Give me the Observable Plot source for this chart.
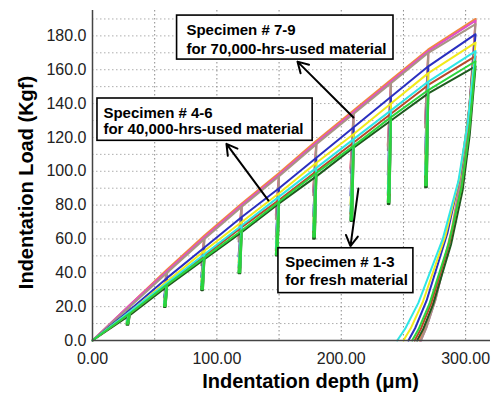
<!DOCTYPE html>
<html>
<head>
<meta charset="utf-8">
<script src="https://cdn.jsdelivr.net/npm/d3@7"></script>
<script src="https://cdn.jsdelivr.net/npm/@observablehq/plot@0.6"></script>
<style>
  html, body { margin: 0; padding: 0; background: #fff; }
</style>
</head>
<body>
<div id="chart"></div>
<script>
// ---- data ----
const cycleDepths = [30, 60, 90, 120, 150, 180, 210, 240, 270, 308]; // µm, last = maximum depth
const specimenNames = ["7", "8", "9", "4", "5", "1", "3", "6", "2"];
const specimenColors = ["#f08a3c", "#e04fc8", "#a89484", "#2a2fc0", "#f2ea1a", "#1e5a1e", "#b8482a", "#2fe6e6", "#2bd43c"];
const peakLoads = [
  [21, 42, 62, 81, 99, 118, 136, 154, 172, 190],
  [21, 41, 61, 80, 98, 117, 135, 153, 171, 189],
  [20, 40, 60, 79, 97, 116, 134, 152, 170, 187],
  [18, 37, 55, 73, 90, 108, 126, 144, 162, 181],
  [17, 35, 53, 70, 87, 105, 122, 140, 158, 176],
  [15, 32, 48, 64, 81, 97, 114, 130, 146, 162],
  [16, 33, 50, 67, 83, 100, 117, 134, 151, 168],
  [17, 34, 51, 68, 85, 102, 119, 136, 153, 171],
  [16, 33, 49, 65, 82, 99, 115, 132, 148, 165]
];
const unloadRatio = [0.75, 0.75, 0.74, 0.68, 0.66, 0.62, 0.64, 0.64, 0.62];
const residualDepth = [263, 264, 264, 254, 250, 261, 259, 245, 257];
// final unloading profile: fraction of peak load vs fraction of (hmax - hf)
const unloadLoadFrac = [1, 0.75, 0.55, 0.35, 0.13, 0.04, 0];
const unloadDepthFrac = [1, 0.9, 0.78, 0.58, 0.27, 0.1, 0];

const xTicks = [0, 100, 200, 300];
const yTicks = [0, 20, 40, 60, 80, 100, 120, 140, 160, 180];
const xGrid = [50, 100, 150, 200, 250, 300];
const yGrid = [10, 20, 30, 40, 50, 60, 70, 80, 90, 100, 110, 120, 130, 140, 150, 160, 170, 180, 190];

const boxes = [
  {x1: 68, x2: 242, y1: 166, y2: 192},
  {x1: 4, x2: 177, y1: 118, y2: 143},
  {x1: 149.5, x2: 258, y1: 28, y2: 54.5}
];
const boxLabels = [
  {x: 75.5, y: 183.2, text: "Specimen # 7-9"},
  {x: 75.5, y: 172.4, text: "for 70,000-hrs-used material"},
  {x: 8.8, y: 134.6, text: "Specimen # 4-6"},
  {x: 8.8, y: 125.0, text: "for 40,000-hrs-used material"},
  {x: 155, y: 46, text: "Specimen # 1-3"},
  {x: 155, y: 35.4, text: "for fresh material"}
];
const arrows = [
  {x1: 209.8, y1: 131.8, x2: 164.8, y2: 164.8},
  {x1: 141.5, y1: 82.7, x2: 107.7, y2: 116.2},
  {x1: 213.8, y1: 89.8, x2: 207.4, y2: 55.8}
];

// ---- build curves from the read values ----
function curve(s) {
  const pts = [{x: 0, y: 0}];
  const n = cycleDepths.length;
  for (let i = 0; i < n - 1; i++) {
    const d = cycleDepths[i], p = peakLoads[s][i];
    pts.push({x: d, y: p});
    pts.push({x: d - 2.6, y: p * unloadRatio[s]});
    pts.push({x: d - 1.2, y: p * unloadRatio[s]});
    pts.push({x: d, y: p});
  }
  const hmax = cycleDepths[n - 1], pmax = peakLoads[s][n - 1];
  for (let k = 0; k < unloadLoadFrac.length; k++) {
    pts.push({
      x: residualDepth[s] + (hmax - residualDepth[s]) * unloadDepthFrac[k],
      y: pmax * unloadLoadFrac[k]
    });
  }
  return pts;
}

const lineMarks = specimenNames.map((name, s) =>
  Plot.line(curve(s), {x: "x", y: "y", stroke: specimenColors[s], strokeWidth: 2, strokeLinejoin: "round"})
);

const fontFamily = "'Liberation Sans', Arial, sans-serif";

const chart = Plot.plot({
  width: 504,
  height: 397,
  marginLeft: 92,
  marginRight: 14,
  marginTop: 10,
  marginBottom: 57,
  style: {fontFamily, background: "white", color: "#222"},
  x: {domain: [0, 320]},
  y: {domain: [0, 195]},
  marks: [
    Plot.ruleX(xGrid, {stroke: "#8a8a8a", strokeDasharray: "1.5,2.5", strokeWidth: 1}),
    Plot.ruleY(yGrid, {stroke: "#8a8a8a", strokeDasharray: "1.5,2.5", strokeWidth: 1, strokeOpacity: 0.7}),
    Plot.axisX({ticks: xTicks, tickFormat: d => d.toFixed(2), tickSize: 0, tickPadding: 12, fontSize: 16, label: null}),
    Plot.axisY({ticks: yTicks, tickFormat: d => d.toFixed(1), tickSize: 0, tickPadding: 6, fontSize: 16, label: null}),
    ...lineMarks,
    Plot.ruleY([0], {stroke: "#444", strokeWidth: 1.5}),
    Plot.ruleX([0], {stroke: "#444", strokeWidth: 1.5}),
    Plot.rect(boxes, {x1: "x1", x2: "x2", y1: "y1", y2: "y2", fill: "white", stroke: "black", strokeWidth: 1.6}),
    Plot.text(boxLabels, {x: "x", y: "y", text: "text", textAnchor: "start", fontWeight: "bold", fontSize: 15, fill: "black"}),
    Plot.arrow(arrows, {x1: "x1", y1: "y1", x2: "x2", y2: "y2", stroke: "black", strokeWidth: 2, headLength: 9}),
    Plot.text(["Indentation depth (μm)"], {text: d => d, frameAnchor: "bottom", textAnchor: "middle", lineAnchor: "middle", dy: 41, dx: 19, fontWeight: "bold", fontSize: 20, fill: "black"}),
    Plot.text(["Indentation Load (Kgf)"], {text: d => d, frameAnchor: "left", textAnchor: "middle", lineAnchor: "middle", dx: -66, dy: 7, rotate: -90, fontWeight: "bold", fontSize: 20, fill: "black"})
  ]
});
document.getElementById("chart").appendChild(chart);
</script>
</body>
</html>
